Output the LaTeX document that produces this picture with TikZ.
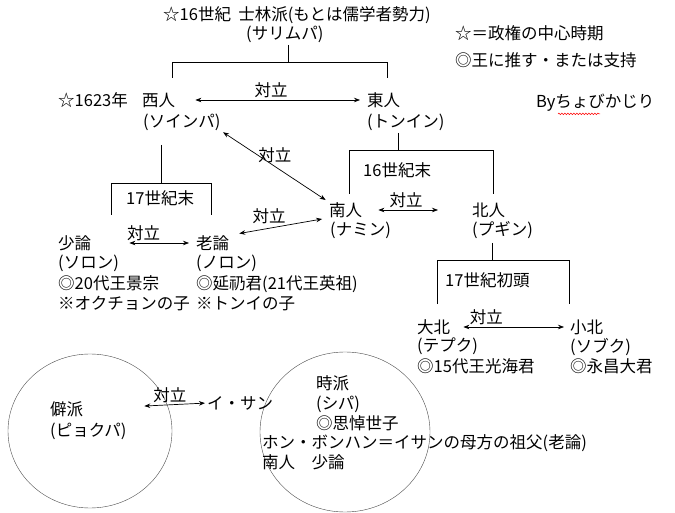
\documentclass[tikz,border=0pt]{standalone}
\usepackage{fontspec}
\setmainfont{Noto Sans CJK JP}
\usetikzlibrary{arrows.meta,decorations.pathmorphing}
\tikzset{
  txt/.style={inner sep=0pt, anchor=west},
  blk/.style={inner sep=0pt, anchor=north west, align=left, font=\fontsize{16.5}{20.5}\selectfont},
  rel/.style={<->, line width=0.7pt},
  tag/.style={above=1.5pt, inner sep=0pt}
}
\begin{document}
\begin{tikzpicture}[x=1pt, y=-1pt, >={Stealth[length=6pt,width=4.5pt]}, font=\fontsize{16.5}{20}\selectfont]
  \useasboundingbox[fill=white] (0,0) rectangle (675,513);
  \node[txt] (title) at (163,15) {☆16世紀\ \ 士林派(もとは儒学者勢力)};
  \node[txt] (sarim) at (246,34) {(サリムパ)};
  \node[txt] (leg1) at (455,33) {☆＝政権の中心時期};
  \node[txt] (leg2) at (455,60) {◎王に推す・または支持};
  \node[txt] (by) at (536,103) {Byちょびかじり};
  \draw[red, line width=0.5pt, decorate, decoration={snake, amplitude=0.8pt, segment length=3pt}]
    ([xshift=22pt,yshift=-2pt]by.south west) -- ([xshift=64pt,yshift=-2pt]by.south west);

  \node[txt] (y1623) at (58,100) {☆1623年};
  \node[txt] (seijin) at (142,100) {西人};
  \node[txt] (seijinY) at (143,122) {(ソインパ)};
  \node[txt] (tojin) at (367,100) {東人};
  \node[txt] (tojinY) at (367,122) {(トンイン)};
  \draw[rel, shorten <=20pt, shorten >=7pt] (seijin.east) -- node[tag] (tA) {対立} (tojin.west);

  \draw (288,45) -- (288,62);
  \draw (172,78) |- (387,62) -- (387,78);

  \draw (161,145) -- (161,183);
  \draw (111,215) |- (211,183) -- (211,215);
  \node[txt] (c17a) at (126,198) {17世紀末};

  \draw (398,133) -- (398,150);
  \draw (349,194) |- (493,150) -- (493,194);
  \node[txt] (c16) at (363,170) {16世紀末};

  \node[txt] (shoron) at (58,243) {少論};
  \node[blk] (shoronB) at (58,255) {(ソロン)\\◎20代王景宗\\※オクチョンの子};
  \node[txt] (roron) at (196,243) {老論};
  \node[blk] (roronB) at (196,255) {(ノロン)\\◎延礽君(21代王英祖)\\※トンイの子};
  \draw[rel, shorten <=38pt, shorten >=7pt] (shoron.east) -- node[tag] (tB) {対立} (roron.west);

  \node[txt] (nanin) at (329,210) {南人};
  \node[txt] (naninY) at (330,230) {(ナミン)};
  \node[txt] (hokujin) at (472,210) {北人};
  \node[txt] (hokujinY) at (472,230) {(プギン)};
  \draw[rel, shorten <=16pt, shorten >=34pt] (nanin.east) -- node[tag, pos=0.4] (tC) {対立} (hokujin.west);
  \draw[rel, shorten <=3pt, shorten >=4pt] (seijinY.south east) -- node[above=3pt, inner sep=0pt] (tD) {対立} (nanin.north west);
  \draw[rel, shorten <=10pt, shorten >=7pt] (roron.north east) -- node[above=4pt, inner sep=0pt, pos=0.4] (tE) {対立} (nanin.south west);

  \draw (492,243) -- (492,260);
  \draw (437,304) |- (569,260) -- (569,304);
  \node[txt] (c17b) at (445,280) {17世紀初頭};

  \node[txt] (daihoku) at (417,327) {大北};
  \node[blk] (daihokuB) at (417,338) {(テプク)\\◎15代王光海君};
  \node[txt] (shohoku) at (570,327) {小北};
  \node[blk] (shohokuB) at (570,338) {(ソブク)\\◎永昌大君};
  \draw[rel, shorten <=13pt, shorten >=6pt] (daihoku.east) -- node[tag, pos=0.3] (tF) {対立} (shohoku.west);

  \draw[black!70] (90,431) ellipse [x radius=82pt, y radius=77pt];
  \draw[black!70] (345,432) ellipse [x radius=85pt, y radius=80pt];
  \node[txt] (hekiha) at (50,409) {僻派};
  \node[txt] (hekihaY) at (50,431) {(ピョクパ)};
  \node[txt] (isan) at (207,403) {イ・サン};
  \draw[rel, shorten <=61pt, shorten >=2pt] (hekiha.east) -- node[tag, pos=0.7] (tG) {対立} (isan.west);
  \node[blk, font=\fontsize{16.5}{20}\selectfont] (jiha) at (316,375) {時派\\(シパ)\\◎思悼世子};
  \node[blk, font=\fontsize{16.5}{20}\selectfont] (hong) at (262,434) {ホン・ボンハン＝イサンの母方の祖父(老論)\\南人　少論};
\end{tikzpicture}
\end{document}
